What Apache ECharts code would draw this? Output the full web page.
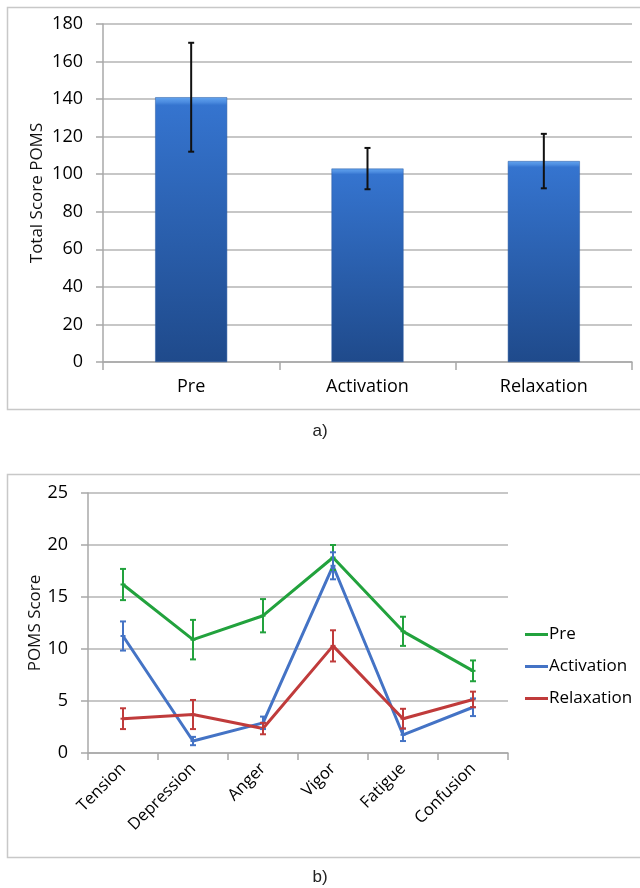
<!DOCTYPE html>
<html>
<head>
<meta charset="utf-8">
<script src="https://cdn.jsdelivr.net/npm/echarts@6/dist/echarts.min.js"></script>
<style>
html,body{margin:0;padding:0;background:#fff;}
#main{width:640px;height:888px;}
</style>
</head>
<body>
<div id="main"></div>
<script>
// ---- Data: panel a) ----
const barCategories = ['Pre', 'Activation', 'Relaxation'];
const barValues = [141, 103, 107];
const barErrors = [29, 11, 14.5];
const barTicks = [0, 20, 40, 60, 80, 100, 120, 140, 160, 180];

// ---- Data: panel b) ----
const moodCategories = ['Tension', 'Depression', 'Anger', 'Vigor', 'Fatigue', 'Confusion'];
const preValues = [16.2, 10.9, 13.2, 18.8, 11.7, 7.9];
const preErrors = [1.5, 1.9, 1.6, 1.2, 1.4, 1.0];
const actValues = [11.25, 1.15, 2.9, 18.0, 1.75, 4.4];
const actErrors = [1.4, 0.4, 0.6, 1.3, 0.6, 0.85];
const relValues = [3.3, 3.7, 2.35, 10.3, 3.3, 5.15];
const relErrors = [1.0, 1.4, 0.55, 1.5, 0.95, 0.75];
const lineTicks = [0, 5, 10, 15, 20, 25];

const FONT = '"Open Sans", Lato, sans-serif';
const GREEN = '#22a23d', BLUE = '#4473c5', RED = '#c03b3b';

function errData(vals, errs) {
  return vals.map((v, i) => [i, v - errs[i], v + errs[i]]);
}
function errRender(color, cap, lw) {
  return function (params, api) {
    const x = api.value(0);
    const lo = api.coord([x, api.value(1)]);
    const hi = api.coord([x, api.value(2)]);
    const st = { stroke: color, lineWidth: lw };
    return {
      type: 'group',
      children: [
        { type: 'line', shape: { x1: lo[0], y1: lo[1], x2: hi[0], y2: hi[1] }, style: st },
        { type: 'line', shape: { x1: lo[0] - cap, y1: lo[1], x2: lo[0] + cap, y2: lo[1] }, style: st },
        { type: 'line', shape: { x1: hi[0] - cap, y1: hi[1], x2: hi[0] + cap, y2: hi[1] }, style: st }
      ]
    };
  };
}

const chart = echarts.init(document.getElementById('main'), null, { renderer: 'canvas' });

const option = {
  backgroundColor: '#fff',
  animation: false,
  graphic: [
    { type: 'rect', shape: { x: 7.5, y: 7.5, width: 640, height: 402 }, style: { fill: 'none', stroke: '#c8c8c8', lineWidth: 1.5 } },
    { type: 'rect', shape: { x: 7.5, y: 474.5, width: 640, height: 383 }, style: { fill: 'none', stroke: '#c8c8c8', lineWidth: 1.5 } },
    { type: 'text', x: 320, y: 431, style: { text: 'a)', font: '17px "Liberation Sans", Arial, sans-serif', fill: '#222', align: 'center', verticalAlign: 'middle' } },
    { type: 'text', x: 320, y: 877, style: { text: 'b)', font: '17px "Liberation Sans", Arial, sans-serif', fill: '#222', align: 'center', verticalAlign: 'middle' } }
  ],
  legend: {
    orient: 'vertical',
    left: 520,
    top: 621,
    itemGap: 15,
    itemWidth: 23,
    itemHeight: 3,
    icon: 'rect',
    data: ['Pre', 'Activation', 'Relaxation'],
    textStyle: { fontFamily: FONT, fontSize: 17, color: '#000', padding: [0, 0, 0, -4] }
  },
  grid: [
    { left: 103, top: 24, width: 529, height: 338 },
    { left: 88, top: 493, width: 420, height: 260 }
  ],
  xAxis: [
    {
      gridIndex: 0, type: 'category', data: barCategories, boundaryGap: true,
      axisLine: { lineStyle: { color: '#a8a8a8', width: 1.5 } },
      axisTick: { show: true, length: 8, lineStyle: { color: '#a8a8a8', width: 1.5 } },
      axisLabel: { fontFamily: FONT, fontSize: 18, color: '#000', margin: 16 },
      splitLine: { show: false }
    },
    {
      gridIndex: 1, type: 'category', data: moodCategories, boundaryGap: true,
      axisLine: { lineStyle: { color: '#a8a8a8', width: 1.5 } },
      axisTick: { show: true, length: 7, lineStyle: { color: '#a8a8a8', width: 1.5 } },
      axisLabel: { fontFamily: FONT, fontSize: 16.5, color: '#000', rotate: 45, margin: 13, interval: 0 },
      splitLine: { show: false }
    }
  ],
  yAxis: [
    {
      gridIndex: 0, type: 'value', min: barTicks[0], max: barTicks[barTicks.length - 1], interval: 20,
      name: 'Total Score POMS', nameLocation: 'middle', nameGap: 57, nameMoveOverlap: false,
      nameTextStyle: { fontFamily: FONT, fontSize: 17, color: '#111' },
      axisLine: { show: true, lineStyle: { color: '#a8a8a8', width: 1.5 } },
      axisTick: { show: true, length: 7, lineStyle: { color: '#a8a8a8', width: 1.5 } },
      axisLabel: { fontFamily: FONT, fontSize: 18, color: '#000', margin: 20 },
      splitLine: { lineStyle: { color: '#b4b4b4', width: 1.5 } }
    },
    {
      gridIndex: 1, type: 'value', min: lineTicks[0], max: lineTicks[lineTicks.length - 1], interval: 5,
      name: 'POMS Score', nameLocation: 'middle', nameGap: 44, nameMoveOverlap: false,
      nameTextStyle: { fontFamily: FONT, fontSize: 17, color: '#111' },
      axisLine: { show: true, lineStyle: { color: '#a8a8a8', width: 1.5 } },
      axisTick: { show: true, length: 7, lineStyle: { color: '#a8a8a8', width: 1.5 } },
      axisLabel: { fontFamily: FONT, fontSize: 18, color: '#000', margin: 20 },
      splitLine: { lineStyle: { color: '#b4b4b4', width: 1.5 } }
    }
  ],
  series: [
    {
      type: 'bar', xAxisIndex: 0, yAxisIndex: 0, data: barValues, barWidth: 72,
      itemStyle: {
        color: new echarts.graphic.LinearGradient(0, 0, 0, 1, [
          { offset: 0, color: '#62a3ee' },
          { offset: 0.018, color: '#4c8ce0' },
          { offset: 0.03, color: '#3574cf' },
          { offset: 1, color: '#1f4a8b' }
        ]),
        borderColor: '#2a5aa0', borderWidth: 0.5
      },
      z: 2
    },
    {
      type: 'custom', xAxisIndex: 0, yAxisIndex: 0,
      data: errData(barValues, barErrors),
      encode: { x: 0, y: [1, 2] },
      renderItem: errRender('#111', 3, 2),
      z: 5
    },
    {
      name: 'Pre', type: 'line', xAxisIndex: 1, yAxisIndex: 1, data: preValues,
      color: GREEN, lineStyle: { width: 3, color: GREEN }, symbol: 'rect', symbolSize: [5, 2],
      itemStyle: { color: GREEN }, z: 3
    },
    {
      name: 'Activation', type: 'line', xAxisIndex: 1, yAxisIndex: 1, data: actValues,
      color: BLUE, lineStyle: { width: 3, color: BLUE }, symbol: 'rect', symbolSize: [5, 2],
      itemStyle: { color: BLUE }, z: 3
    },
    {
      name: 'Relaxation', type: 'line', xAxisIndex: 1, yAxisIndex: 1, data: relValues,
      color: RED, lineStyle: { width: 3, color: RED }, symbol: 'rect', symbolSize: [5, 2],
      itemStyle: { color: RED }, z: 3
    },
    {
      type: 'custom', xAxisIndex: 1, yAxisIndex: 1, data: errData(preValues, preErrors),
      encode: { x: 0, y: [1, 2] }, renderItem: errRender(GREEN, 3, 2), z: 4
    },
    {
      type: 'custom', xAxisIndex: 1, yAxisIndex: 1, data: errData(actValues, actErrors),
      encode: { x: 0, y: [1, 2] }, renderItem: errRender(BLUE, 3, 2), z: 4
    },
    {
      type: 'custom', xAxisIndex: 1, yAxisIndex: 1, data: errData(relValues, relErrors),
      encode: { x: 0, y: [1, 2] }, renderItem: errRender(RED, 3, 2), z: 4
    }
  ]
};
chart.setOption(option);
</script>
</body>
</html>
